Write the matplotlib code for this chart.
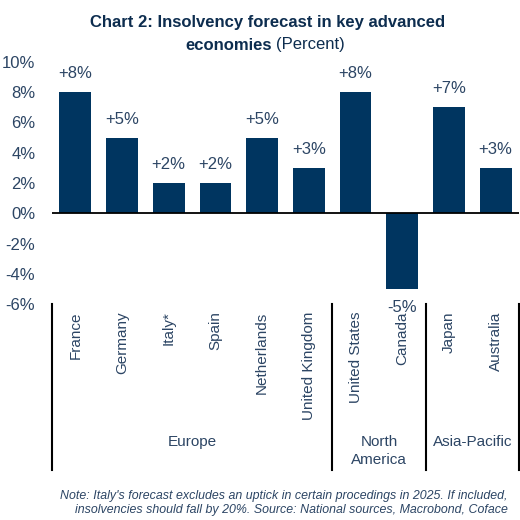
import matplotlib
matplotlib.use("Agg")
import matplotlib.pyplot as plt
import matplotlib.transforms as mtransforms

countries = ["France", "Germany", "Italy*", "Spain", "Netherlands", "United Kingdom",
             "United States", "Canada", "Japan", "Australia"]
values = [8, 5, 2, 2, 5, 3, 8, -5, 7, 3]
groups = ["Europe", "North\nAmerica", "Asia-Pacific"]
group_sizes = [6, 2, 2]
yticks = [10, 8, 6, 4, 2, 0, -2, -4, -6]

bar_color = "#003560"
text_color = "#2c4564"
title_color = "#0d2d4f"

plt.rcParams['font.family'] = ['Liberation Sans', 'DejaVu Sans']

fig = plt.figure(figsize=(5.2, 5.2), dpi=100)
ax = fig.add_axes([52/520, 1-304/520, (519-52)/520, (304-62)/520])

x = list(range(len(countries)))
ax.bar(x, values, width=0.68, color=bar_color, zorder=2)
ax.axhline(0, color="black", lw=1.3, zorder=3)

ax.set_xlim(-0.5, len(countries) - 0.5)
ax.set_ylim(-6, 10)
ax.set_yticks(yticks)
ax.set_yticklabels([f"{t}%" for t in yticks], fontsize=12, color=text_color)
ax.tick_params(axis='y', length=0, pad=12)
ax.set_xticks([])
for s in ax.spines.values():
    s.set_visible(False)

for xi, v in zip(x, values):
    lab = f"+{v}%" if v > 0 else f"{v}%"
    if v >= 0:
        ax.annotate(lab, (xi, v), xytext=(0, 8), textcoords="offset points",
                    ha="center", va="bottom", fontsize=12, color=text_color)
    else:
        ax.annotate(lab, (xi, v), xytext=(0, -8), textcoords="offset points",
                    ha="center", va="top", fontsize=12, color=text_color, zorder=5)

trans = mtransforms.blended_transform_factory(ax.transData, ax.transAxes)
for xi, c in zip(x, countries):
    ax.text(xi, -0.03, c, rotation=90, ha="center", va="top", fontsize=11,
            color=text_color, transform=trans)

bounds = [-0.5]
for g in group_sizes:
    bounds.append(bounds[-1] + g)
for b in bounds:
    ax.plot([b, b], [0, -0.686], color="black", lw=1.5, transform=trans, clip_on=False)
for i, g in enumerate(groups):
    mid = (bounds[i] + bounds[i + 1]) / 2
    ax.text(mid, -0.54, g, ha="center", va="top", fontsize=11, color=text_color,
            transform=trans, linespacing=1.4)

fig.text(268/520, 1-22/520, "Chart 2: Insolvency forecast in key advanced",
         ha="center", va="center", fontsize=12, fontweight="bold", color=title_color)
fig.text(272/520, 1-45/520, "economies", ha="right", va="center", fontsize=12,
         fontweight="bold", color=title_color)
fig.text(276/520, 1-45/520, "(Percent)", ha="left", va="center", fontsize=12,
         color=title_color)

fig.text(508/520, 1-503/520,
         "Note: Italy's forecast excludes an uptick in certain procedings in 2025. If included,\n"
         "insolvencies should fall by 20%. Source: National sources, Macrobond, Coface",
         ha="right", va="center", fontsize=8.9, style="italic", color=text_color,
         multialignment="right", linespacing=1.2)

fig.savefig("out.png", dpi=100)
